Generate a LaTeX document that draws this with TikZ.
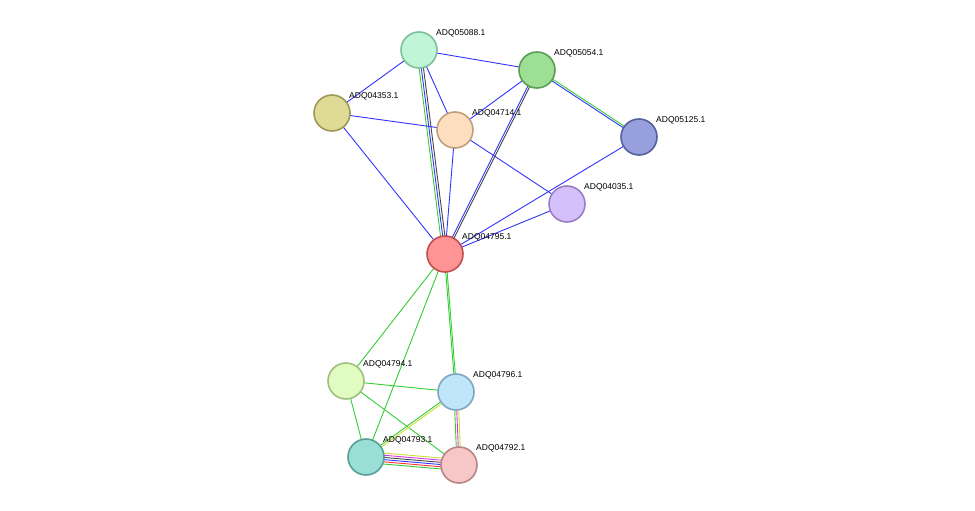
\documentclass[tikz,border=0pt]{standalone}
\usepackage{fontspec}
\setmainfont{Liberation Sans}
\definecolor{eblue}{HTML}{3333FF}
\definecolor{egreen}{HTML}{33CC33}
\definecolor{eblack}{HTML}{444444}
\definecolor{eyellow}{HTML}{CCDD33}
\definecolor{emag}{HTML}{DD33DD}
\definecolor{ered}{HTML}{FF3333}
\tikzset{
  prot/.style={circle, minimum size=36pt, inner sep=0pt, line width=1.6pt},
  lbl/.style={font=\fontsize{8.5}{10}\selectfont, anchor=south west, inner sep=1pt},
  edge/.style={line width=0.9pt}
}
% parallel lines between two nodes, offset by (dx,dy) per line
\newcommand{\multiedge}[5]{%
  \foreach \c [count=\k from 0] in {#3} {
    \draw[edge, \c, transform canvas={shift={(\k*#4-#5*#4,\k*#4*0-0)}}] (#1) -- (#2);
  }}
\newcommand{\multiedgev}[5]{%
  \foreach \c [count=\k from 0] in {#3} {
    \draw[edge, \c, transform canvas={shift={(0,\k*#4-#5*#4)}}] (#1) -- (#2);
  }}
\begin{document}
\begin{tikzpicture}[x=1pt,y=-1pt]
\useasboundingbox (0,0) rectangle (975,511);

%nodes
\foreach \name/\x/\y/\fc/\bc in {
   a05088/419/50/C0F5D8/7FBF9A, a05054/537/70/9EDF96/5A9E55,
   a04353/332/113/DFDB96/9E9A55, a04714/455/130/FDDFC0/BF9F80,
   a05125/639/137/97A0DD/5560A0, a04035/567/204/D4C0FA/9880C0,
   a04795/445/254/FF9494/C05050, a04794/346/381/E0FCC0/A0BF80,
   a04796/456/392/C0E6FA/7FA6C0, a04793/366/457/9ADFD6/55A098,
   a04792/459/465/F7C6C6/B88585} {
  \definecolor{fc}{HTML}{\fc}\definecolor{bc}{HTML}{\bc}
  \coordinate (\name) at (\x,\y);
}

%edges
\begin{scope}
\draw[edge, eblue] (a05088) -- (a05054);
\draw[edge, eblue] (a05088) -- (a04353);
\draw[edge, eblue] (a05088) -- (a04714);
\multiedge{a05088}{a04795}{egreen,eblue,eblack}{2.2}{1}
\draw[edge, eblue] (a04353) -- (a04714);
\draw[edge, eblue] (a04353) -- (a04795);
\draw[edge, eblue] (a04714) -- (a05054);
\draw[edge, eblue] (a04714) -- (a04795);
\draw[edge, eblue] (a04714) -- (a04035);
\multiedge{a05054}{a04795}{eblue,eblack}{2.2}{0.5}
\multiedgev{a05054}{a05125}{egreen,eblue}{2.2}{0.5}
\draw[edge, eblue] (a05125) -- (a04795);
\draw[edge, eblue] (a04035) -- (a04795);
\draw[edge, egreen] (a04795) -- (a04794);
\draw[edge, egreen] (a04795) -- (a04793);
\multiedge{a04795}{a04796}{egreen,egreen}{1.4}{0.5}
\draw[edge, egreen] (a04794) -- (a04796);
\draw[edge, egreen] (a04794) -- (a04793);
\draw[edge, egreen] (a04794) -- (a04792);
\multiedge{a04796}{a04792}{egreen,emag,eyellow}{2}{1}
\multiedgev{a04796}{a04793}{egreen,eyellow}{2.4}{0.5}
\multiedgev{a04793}{a04792}{eyellow,emag,eblack,eblue,ered,egreen}{2.2}{2.5}
\end{scope}

\foreach \name/\fc/\bc/\t in {
   a05088/C0F5D8/7FBF9A/ADQ05088.1, a05054/9EDF96/5A9E55/ADQ05054.1,
   a04353/DFDB96/9E9A55/ADQ04353.1, a04714/FDDFC0/BF9F80/ADQ04714.1,
   a05125/97A0DD/5560A0/ADQ05125.1, a04035/D4C0FA/9880C0/ADQ04035.1,
   a04795/FF9494/C05050/ADQ04795.1, a04794/E0FCC0/A0BF80/ADQ04794.1,
   a04796/C0E6FA/7FA6C0/ADQ04796.1, a04793/9ADFD6/55A098/ADQ04793.1,
   a04792/F7C6C6/B88585/ADQ04792.1} {
  \definecolor{fc}{HTML}{\fc}\definecolor{bc}{HTML}{\bc}
  \node[prot, fill=fc, draw=bc] (n\name) at (\name) {};
  \node[lbl] at ([shift={(16,-12)}]\name) {\t};
}
\end{tikzpicture}
\end{document}
